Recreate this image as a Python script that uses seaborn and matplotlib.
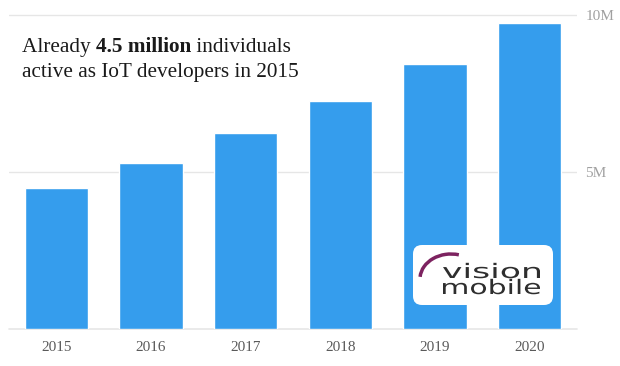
import matplotlib
matplotlib.use("Agg")
import matplotlib.pyplot as plt
import seaborn as sns
from matplotlib.patches import FancyBboxPatch, PathPatch, Arc
from matplotlib.textpath import TextPath
from matplotlib.font_manager import FontProperties
from matplotlib.transforms import Affine2D, IdentityTransform

# data (millions of developers)
years = ["2015", "2016", "2017", "2018", "2019", "2020"]
developers = [4.49, 5.29, 6.23, 7.26, 8.43, 9.75]
ytick_values = [5, 10]
ytick_labels = ["5M", "10M"]

bar_color = "#359ded"
grid_color = "#e6e6e6"

sns.set_theme(style="white")
plt.rcParams["font.family"] = ["Liberation Serif", "DejaVu Serif"]

fig = plt.figure(figsize=(6.2, 3.66), dpi=100)
ax = fig.add_axes([9 / 620, 0.1011, (577 - 9) / 620, 0.8664])

sns.barplot(x=years, y=developers, color=bar_color, saturation=1,
            width=0.67, ax=ax, zorder=2)

ax.set_xlim(-0.5, 5.5)
ax.set_ylim(0, 10.1)
sns.despine(ax=ax, left=True, right=True, top=True, bottom=True)

ax.yaxis.tick_right()
ax.set_yticks(ytick_values)
ax.set_yticklabels(ytick_labels, color="#a0a0a0", fontsize=11)
ax.yaxis.grid(True, color=grid_color, lw=1)
ax.set_axisbelow(True)
ax.axhline(0, color=grid_color, lw=1.2, clip_on=False, zorder=1)
ax.tick_params(axis="y", length=0, pad=6)
ax.tick_params(axis="x", length=0, pad=9, labelsize=11, labelcolor="#5a5a5a")
ax.set_xlabel("")
ax.set_ylabel("")

# headline with bold part
fig.canvas.draw()
renderer = fig.canvas.get_renderer()
x0, y1, y2 = 22 / 620, 1 - 52 / 366, 1 - 77 / 366
tsize = 15.3
t1 = fig.text(x0, y1, "Already ", fontsize=tsize, color="#1a1a1a")
w1 = t1.get_window_extent(renderer).width / fig.bbox.width
t2 = fig.text(x0 + w1, y1, "4.5 million", fontsize=tsize, color="#1a1a1a",
              fontweight="bold")
w2 = t2.get_window_extent(renderer).width / fig.bbox.width
fig.text(x0 + w1 + w2, y1, " individuals", fontsize=tsize, color="#1a1a1a")
fig.text(x0, y2, "active as IoT developers in 2015", fontsize=tsize,
         color="#1a1a1a")

# logo box (pixel coords, origin bottom-left)
H = 366
box = FancyBboxPatch((418, H - 300), 130, 50,
                     boxstyle="round,pad=5,rounding_size=9",
                     fc="white", ec="none", transform=IdentityTransform(),
                     zorder=5)
fig.patches.append(box)

logo_font = FontProperties(family="DejaVu Sans")


def logo_word(word, left, baseline, width, fsize):
    tp = TextPath((0, 0), word, size=10, prop=logo_font)
    ext = tp.get_extents()
    sx = width / ext.width
    sy = fsize / 10
    tr = Affine2D().translate(-ext.x0, 0).scale(sx, sy).translate(left, baseline)
    patch = PathPatch(tr.transform_path(tp), fc="#2e2e2e", ec="none",
                      transform=IdentityTransform(), zorder=6)
    fig.patches.append(patch)


logo_word("vision", 443, H - 278, 97, 20)
logo_word("mobile", 443, H - 294, 97, 20)

swoosh = Arc((451, H - 279), 62, 50, theta1=72, theta2=176, color="#7d2360",
             lw=2.5, transform=IdentityTransform(), zorder=6)
fig.patches.append(swoosh)

fig.savefig("out.png", dpi=100)
